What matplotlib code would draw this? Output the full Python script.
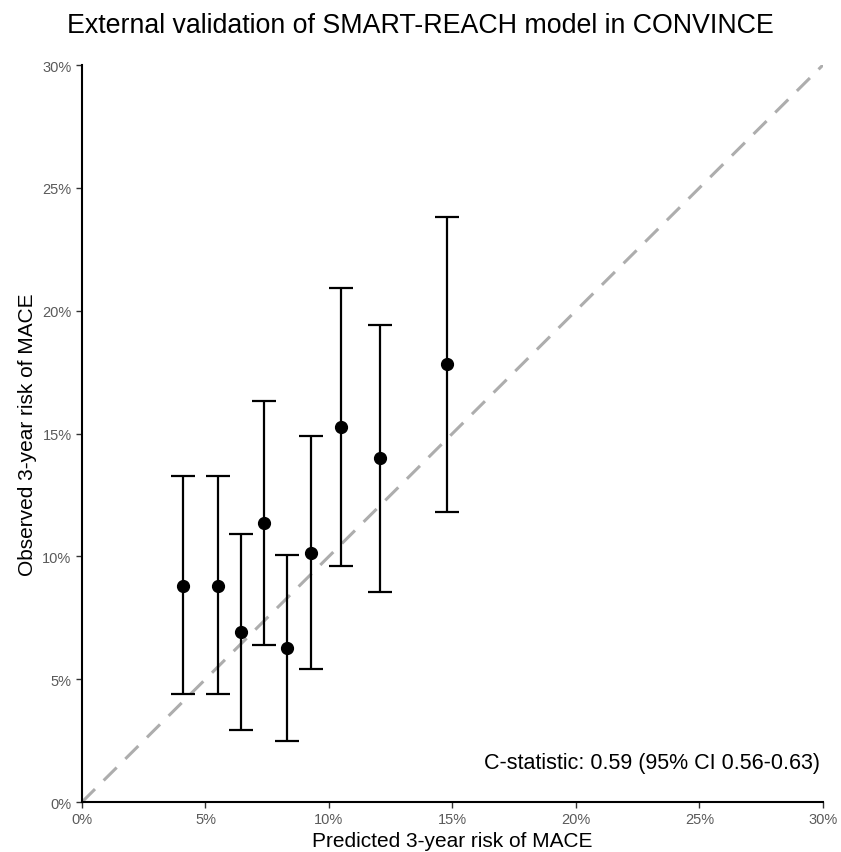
import matplotlib.pyplot as plt
import numpy as np

# calibration groups, values in percent
predicted = [4.08, 5.49, 6.44, 7.36, 8.30, 9.27, 10.49, 12.06, 14.76]
observed = [8.80, 8.80, 6.91, 11.34, 6.27, 10.13, 15.26, 13.99, 17.83]
lower = [4.40, 4.40, 2.94, 6.40, 2.47, 5.41, 9.62, 8.53, 11.82]
upper = [13.26, 13.26, 10.91, 16.33, 10.07, 14.90, 20.92, 19.43, 23.82]
ticks = [0, 5, 10, 15, 20, 25, 30]
tick_labels = ['0%', '5%', '10%', '15%', '20%', '25%', '30%']

plt.rcParams['font.family'] = ['Liberation Sans', 'DejaVu Sans']

fig = plt.figure(figsize=(8.41, 8.53), dpi=100)
ax = fig.add_axes([0.0975, 0.0586, 0.881, 0.864])

ax.plot([0, 30], [0, 30], color='#adadad', lw=2.2, dashes=(6, 4), zorder=1)

obs = np.array(observed)
yerr = [obs - np.array(lower), np.array(upper) - obs]
ax.errorbar(predicted, observed, yerr=yerr, fmt='o', color='black',
            ms=8.5, elinewidth=1.6, capsize=8.5, capthick=1.6, zorder=3)

ax.set_xlim(0, 30)
ax.set_ylim(0, 30)
ax.set_xticks(ticks)
ax.set_xticklabels(tick_labels)
ax.set_yticks(ticks)
ax.set_yticklabels(tick_labels)
ax.tick_params(colors='#333333', labelcolor='#5a5a5a', labelsize=10.5, length=4, width=1)

for side in ['top', 'right']:
    ax.spines[side].set_visible(False)
for side in ['left', 'bottom']:
    ax.spines[side].set_linewidth(1.5)
    ax.spines[side].set_color('black')

ax.set_xlabel('Predicted 3-year risk of MACE', fontsize=15, labelpad=3)
ax.set_ylabel('Observed 3-year risk of MACE', fontsize=15, labelpad=4)
fig.suptitle('External validation of SMART-REACH model in CONVINCE', fontsize=19.3, x=0.5, y=0.985)

ax.text(29.9, 1.6, 'C-statistic: 0.59 (95% CI 0.56-0.63)', ha='right', va='center', fontsize=15.5)

fig.savefig('out.png', dpi=100)
